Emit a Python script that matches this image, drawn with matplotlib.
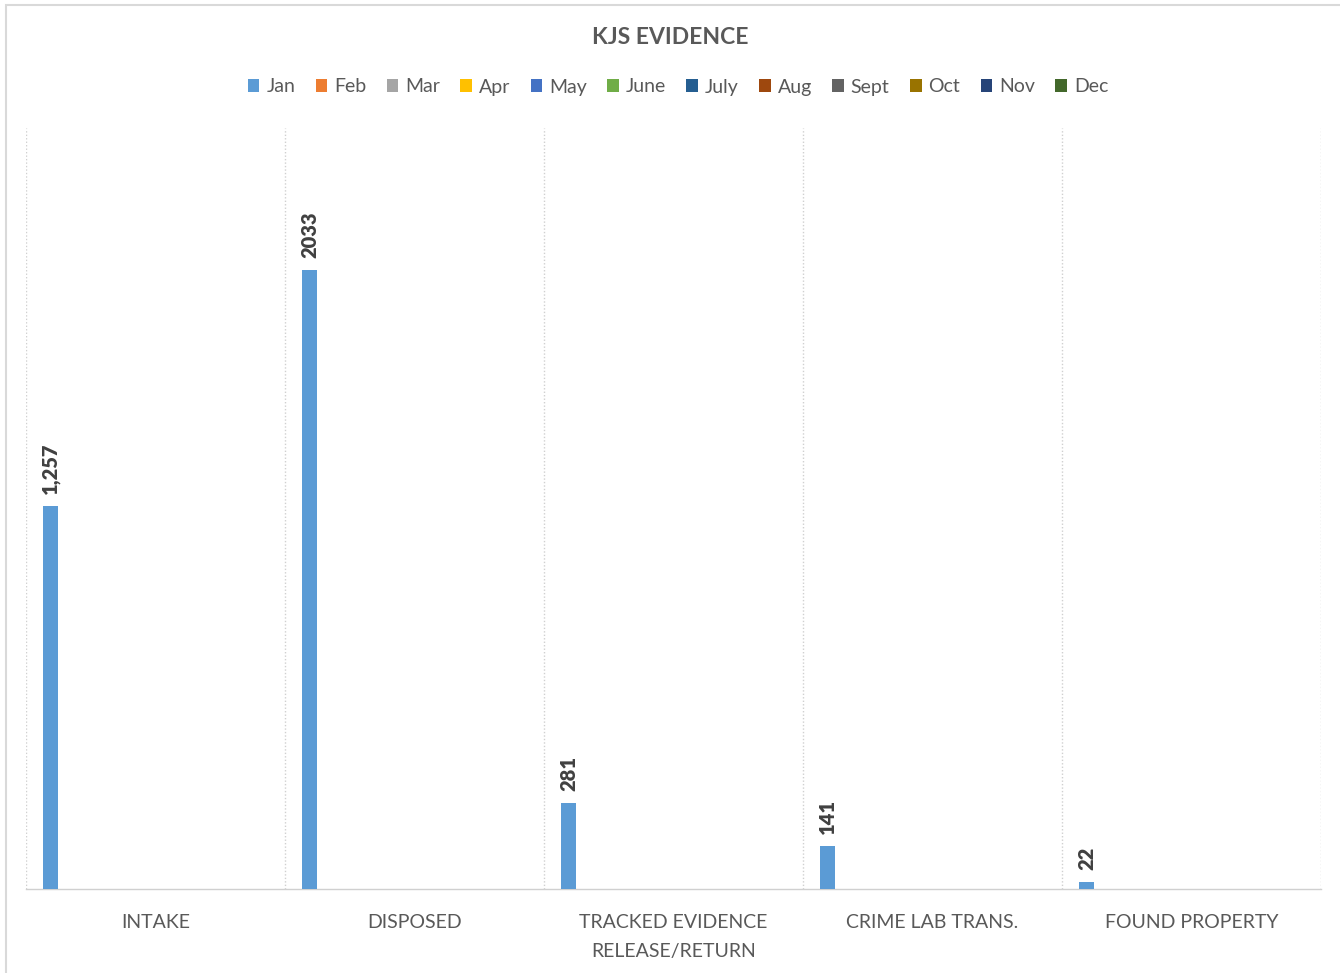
import numpy as np
import matplotlib.pyplot as plt
from matplotlib.patches import Patch, Rectangle

plt.rcParams['font.family'] = ['Lato', 'DejaVu Sans']

categories = ['INTAKE', 'DISPOSED', 'TRACKED EVIDENCE\nRELEASE/RETURN',
              'CRIME LAB TRANS.', 'FOUND PROPERTY']
months = ['Jan', 'Feb', 'Mar', 'Apr', 'May', 'June', 'July', 'Aug',
          'Sept', 'Oct', 'Nov', 'Dec']
month_colors = ['#5B9BD5', '#ED7D31', '#A5A5A5', '#FFC000', '#4472C4', '#70AD47',
                '#255E91', '#9E480E', '#636363', '#997300', '#264478', '#43682B']
jan_values = [1257, 2033, 281, 141, 22]
jan_labels = ['1,257', '2033', '281', '141', '22']

text_color = '#595959'
grid_color = '#d0d0d0'

fig = plt.figure(figsize=(13.4, 9.73), dpi=100)
ax = fig.add_axes([26 / 1340, 1 - 889 / 973, (1321 - 26) / 1340, (889 - 128) / 973])

# chart frame (only top and left edges fall inside the image)
fig.patches.append(Rectangle((6 / 1340, -0.1), 1.2, 1 - 5 / 973 + 0.1,
                             transform=fig.transFigure, fill=False,
                             edgecolor='#d9d9d9', linewidth=1.5))

x = np.arange(len(categories))
bar_w = 0.058
offset = -0.405
bars = ax.bar(x + offset, jan_values, width=bar_w, color=month_colors[0], zorder=3)
for rect, lab in zip(bars, jan_labels):
    ax.text(rect.get_x() + rect.get_width() / 2, rect.get_height() + 40, lab,
            rotation=90, ha='center', va='bottom', fontsize=14.5,
            fontweight='heavy', color='#404040')

ax.set_xlim(-0.5, len(categories) - 0.5)
ax.set_ylim(0, 2500)
ax.set_yticks([])
for b in np.arange(-0.5, len(categories), 1.0):
    ax.axvline(b, color=grid_color, linestyle=(0, (1, 1.5)), linewidth=1, zorder=1)
for s in ['top', 'left', 'right']:
    ax.spines[s].set_visible(False)
ax.spines['bottom'].set_color(grid_color)
ax.spines['bottom'].set_linewidth(1)

ax.set_xticks(x)
ax.set_xticklabels(categories, fontsize=14, color=text_color, linespacing=1.85)
ax.tick_params(axis='x', length=0, pad=18)

fig.text(0.5, 1 - 37 / 973, 'KJS EVIDENCE', ha='center', va='center',
         fontsize=16.5, fontweight='bold', color=text_color)

handles = [Patch(facecolor=c, label=m) for m, c in zip(months, month_colors)]
fig.legend(handles=handles, loc='center', bbox_to_anchor=(678 / 1340, 1 - 87 / 973),
           ncol=12, frameon=False, fontsize=14, labelcolor=text_color,
           handlelength=0.6, handleheight=0.6, handletextpad=0.35,
           columnspacing=1.05, borderpad=0)

fig.savefig('out.png', dpi=100, facecolor='white')
